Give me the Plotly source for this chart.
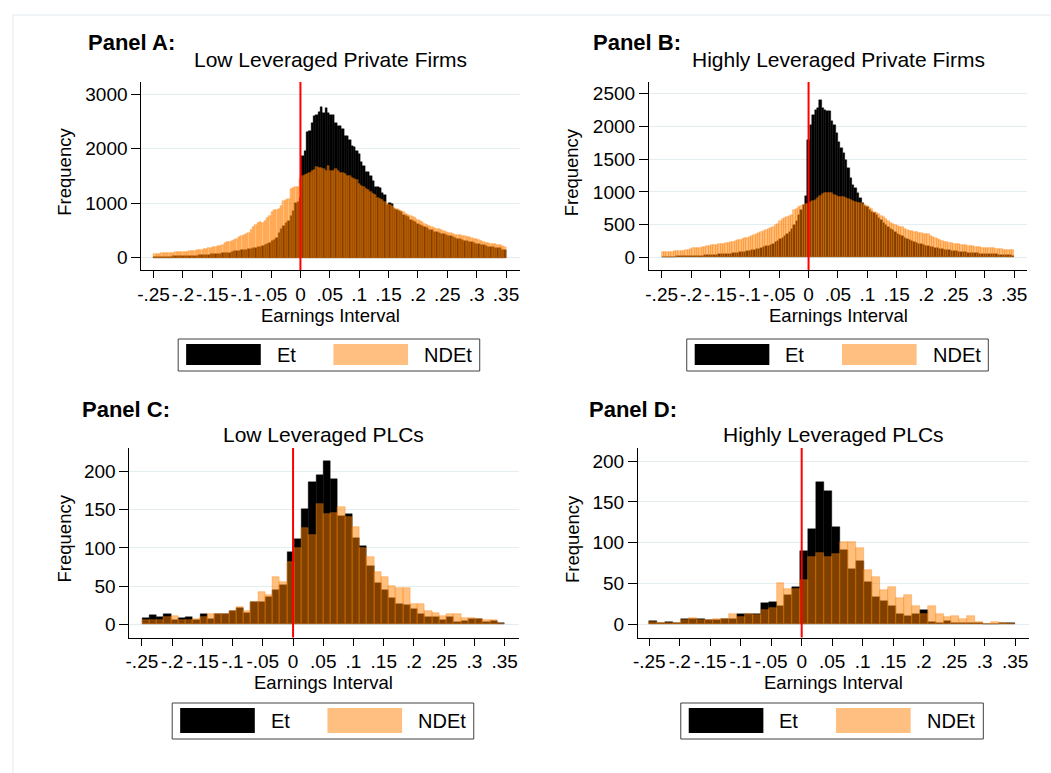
import plotly.graph_objects as go

W, H = 1051, 773
FONT = "Liberation Sans, Arial, Helvetica, sans-serif"

# ---------------- data (frequencies per earnings bin) ----------------
tick_vals = [-0.25, -0.2, -0.15, -0.1, -0.05, 0, 0.05, 0.1, 0.15, 0.2, 0.25, 0.3, 0.35]
tick_text = ["-.25", "-.2", "-.15", "-.1", "-.05", "0", ".05", ".1", ".15", ".2", ".25", ".3", ".35"]

# Panel A: Low leveraged private firms (150 bins of width .004 starting at -.25)
a_et = [12, 14, 15, 16, 18, 18, 20, 20, 22, 24,
        25, 27, 30, 31, 33, 35, 37, 38, 40, 42,
        44, 46, 50, 55, 60, 65, 68, 72, 75, 80,
        85, 90, 95, 105, 115, 120, 130, 138, 145, 150,
        155, 160, 170, 180, 190, 200, 215, 230, 250, 270,
        300, 330, 360, 450, 520, 580, 630, 680, 760, 850,
        1000, 1030, 1100, 1870, 1960, 2300, 2320, 2470, 2600, 2610,
        2670, 2770, 2660, 2740, 2650, 2620, 2620, 2480, 2420, 2420,
        2360, 2240, 2230, 2160, 2050, 2040, 1960, 1900, 1760, 1690,
        1580, 1580, 1490, 1400, 1290, 1290, 1280, 1180, 1150, 970,
        1000, 990, 900, 880, 850, 830, 780, 760, 740, 700,
        680, 650, 620, 600, 580, 560, 540, 510, 500, 480,
        470, 455, 440, 430, 410, 400, 390, 380, 365, 350,
        340, 325, 310, 300, 290, 280, 265, 255, 245, 235,
        225, 210, 205, 195, 190, 180, 175, 170, 150, 140]
a_ndet = [65, 70, 72, 78, 80, 84, 88, 92, 95, 98,
          100, 102, 104, 106, 110, 115, 120, 128, 135, 142,
          150, 158, 165, 172, 180, 188, 198, 210, 222, 240,
          262, 285, 290, 310, 330, 350, 372, 395, 420, 440,
          460, 500, 560, 600, 640, 650, 640, 680, 720, 760,
          845, 870, 880, 900, 950, 1040, 1060, 1080, 1260, 1275,
          1290, 1300, 1450, 1500, 1520, 1540, 1550, 1600, 1610, 1660,
          1650, 1640, 1630, 1600, 1690, 1600, 1590, 1620, 1600, 1560,
          1550, 1530, 1490, 1500, 1470, 1440, 1430, 1360, 1320, 1300,
          1260, 1240, 1200, 1170, 1150, 1100, 1080, 1060, 1020, 990,
          960, 940, 920, 900, 880, 860, 830, 800, 790, 760,
          740, 720, 700, 680, 650, 620, 600, 580, 560, 550,
          530, 520, 500, 490, 470, 460, 450, 440, 425, 418,
          410, 400, 392, 386, 378, 365, 350, 335, 320, 300,
          280, 270, 265, 258, 250, 245, 240, 232, 220, 205]

# Panel B: Highly leveraged private firms (150 bins of width .004)
b_et = [10, 10, 11, 11, 12, 12, 13, 13, 14, 15,
        16, 17, 18, 19, 20, 22, 24, 26, 28, 30,
        35, 38, 40, 42, 44, 46, 48, 50, 52, 55,
        60, 65, 70, 75, 80, 85, 92, 100, 108, 115,
        122, 130, 140, 155, 170, 180, 195, 210, 230, 250,
        280, 300, 320, 360, 390, 440, 500, 560, 640, 720,
        800, 930, 1800, 2025, 2180, 2255, 2280, 2410, 2280, 2255,
        2230, 2230, 2090, 2025, 1900, 1770, 1670, 1590, 1490, 1360,
        1210, 1110, 1060, 980, 900, 830, 790, 765, 730, 700,
        670, 640, 600, 570, 530, 500, 470, 440, 410, 390,
        360, 340, 320, 300, 285, 270, 255, 240, 225, 210,
        200, 190, 180, 170, 165, 160, 150, 140, 130, 122,
        115, 110, 105, 100, 95, 90, 88, 85, 80, 75,
        70, 68, 65, 62, 60, 58, 56, 54, 52, 50,
        48, 46, 44, 42, 40, 38, 36, 32, 28, 25]
b_ndet = [80, 82, 85, 86, 88, 90, 92, 95, 98, 100,
          105, 110, 120, 135, 140, 145, 150, 155, 165, 172,
          178, 185, 190, 195, 200, 205, 210, 215, 225, 235,
          240, 250, 260, 265, 275, 290, 300, 310, 325, 340,
          355, 370, 380, 395, 418, 430, 450, 470, 495, 510,
          560, 580, 600, 610, 625, 640, 720, 740, 770, 785,
          800, 815, 820, 850, 860, 870, 900, 930, 975, 985,
          990, 985, 980, 960, 930, 920, 920, 915, 900, 890,
          880, 860, 840, 830, 825, 815, 800, 780, 760, 735,
          700, 680, 660, 630, 610, 590, 560, 530, 510, 500,
          480, 470, 460, 440, 420, 405, 395, 390, 380, 370,
          365, 360, 355, 350, 330, 310, 290, 275, 260, 250,
          240, 230, 220, 215, 210, 205, 200, 195, 190, 185,
          180, 175, 170, 165, 160, 155, 150, 148, 145, 142,
          140, 135, 130, 125, 120, 118, 115, 112, 110, 110]

# Panel C: Low leveraged PLCs (50 bins of width .012)
c_et = [8, 12, 9, 13, 5, 8, 9, 6, 14, 7,
        13, 14, 17, 21, 15, 29, 29, 36, 45, 51,
        94, 112, 151, 186, 196, 214, 190, 142, 145, 113,
        103, 76, 54, 45, 34, 27, 25, 20, 13, 10,
        10, 6, 10, 3, 4, 7, 7, 3, 4, 2]
c_ndet = [6, 6, 6, 9, 11, 6, 6, 7, 9, 13,
          14, 14, 17, 22, 17, 29, 42, 39, 62, 56,
          81, 100, 126, 117, 158, 145, 146, 154, 141, 127,
          100, 88, 68, 62, 50, 48, 47, 26, 26, 17,
          15, 11, 14, 13, 8, 8, 7, 6, 6, 0]

# Panel D: Highly leveraged PLCs (46 bins spanning -.25 to .35)
d_et = [4, 2, 3, 2, 6, 6, 6, 5, 5, 6,
        7, 13, 13, 13, 26, 27, 22, 36, 46, 90,
        117, 174, 163, 119, 91, 68, 78, 52, 34, 29,
        23, 13, 10, 12, 17, 3, 2, 4, 1, 1,
        2, 1, 0, 0, 1, 1]
d_ndet = [3, 2, 2, 2, 5, 8, 5, 5, 7, 7,
          13, 9, 12, 11, 17, 20, 50, 43, 43, 54,
          83, 87, 82, 86, 101, 101, 93, 66, 58, 42,
          46, 32, 36, 22, 12, 22, 13, 9, 10, 7,
          10, 3, 0, 3, 2, 0]

panel_labels = ["Panel A:", "Panel B:", "Panel C:", "Panel D:"]
subtitles = ["Low Leveraged Private Firms", "Highly Leveraged Private Firms",
             "Low Leveraged PLCs", "Highly Leveraged PLCs"]
series_names = ["Et", "NDEt"]

# ---------------- layout geometry (pixels) ----------------
panels = [
    dict(et=a_et, ndet=a_ndet, start=-0.25, width=0.004,
         xdom=(137, 517), ydom=(82, 270), xr=(-0.2708, 0.373), yr=(-226, 3224),
         yt=[0, 1000, 2000, 3000], panel_x=81, panel_y=43, sub_y=59,
         ytitle_x=60, xtitle_y=315, leg=(174, 339, 477, 371)),
    dict(et=b_et, ndet=b_ndet, start=-0.25, width=0.004,
         xdom=(647, 1027), ydom=(82, 270), xr=(-0.2717, 0.372), yr=(-194, 2680),
         yt=[0, 500, 1000, 1500, 2000, 2500], panel_x=589, panel_y=43, sub_y=59,
         ytitle_x=570, xtitle_y=315, leg=(685, 339, 988, 371)),
    dict(et=c_et, ndet=c_ndet, start=-0.25, width=0.012,
         xdom=(125, 516), ydom=(448, 637.5), xr=(-0.2707, 0.373), yr=(-17.3, 230.8),
         yt=[0, 50, 100, 150, 200], panel_x=75, panel_y=410, sub_y=434,
         ytitle_x=60, xtitle_y=682, leg=(168, 703, 471, 739)),
    dict(et=d_et, ndet=d_ndet, start=-0.25, width=0.6 / 46,
         xdom=(636, 1029), ydom=(448, 637.5), xr=(-0.2685, 0.373), yr=(-16.2, 216),
         yt=[0, 50, 100, 150, 200], panel_x=585, panel_y=410, sub_y=434,
         ytitle_x=570, xtitle_y=682, leg=(679, 703, 983, 739)),
]

ORANGE = "rgba(255,128,0,0.5)"
ORANGE_EDGE = "rgba(255,128,0,0.6)"
GRID = "#e4edf0"
TICK_SIZE = 19
AXTITLE_SIZE = 18.5
SUB_SIZE = 21
PANEL_SIZE = 22
LEG_SIZE = 20


def px(x):
    return x / W


def py(y):
    return 1 - y / H


fig = go.Figure()
shapes = []
annotations = []
layout = {}

for k, p in enumerate(panels):
    n = k + 1
    xs = "x" if n == 1 else f"x{n}"
    ys = "y" if n == 1 else f"y{n}"
    xa = "xaxis" if n == 1 else f"xaxis{n}"
    ya = "yaxis" if n == 1 else f"yaxis{n}"
    centers = [p["start"] + p["width"] * (i + 0.5) for i in range(len(p["et"]))]

    fig.add_trace(go.Bar(x=centers, y=p["et"], width=p["width"], xaxis=xs, yaxis=ys,
                         name=series_names[0], showlegend=False,
                         marker=dict(color="black", line=dict(color="black", width=0.4))))
    fig.add_trace(go.Bar(x=centers, y=p["ndet"], width=p["width"], xaxis=xs, yaxis=ys,
                         name=series_names[1], showlegend=False,
                         marker=dict(color=ORANGE, line=dict(color=ORANGE_EDGE, width=0.6))))

    layout[xa] = dict(domain=[px(p["xdom"][0]), px(p["xdom"][1])], range=list(p["xr"]),
                      anchor=ys, tickmode="array", tickvals=tick_vals, ticktext=tick_text,
                      tickangle=0, ticks="outside", ticklen=7, tickcolor="black",
                      showline=True, linecolor="black", linewidth=1,
                      showgrid=False, zeroline=False,
                      tickfont=dict(family=FONT, size=TICK_SIZE, color="black"))
    layout[ya] = dict(domain=[py(p["ydom"][1]), py(p["ydom"][0])], range=list(p["yr"]),
                      anchor=xs, tickmode="array", tickvals=p["yt"],
                      ticks="outside", ticklen=9, tickcolor="black",
                      showline=True, linecolor="black", linewidth=1,
                      showgrid=True, gridcolor=GRID, gridwidth=1, zeroline=False,
                      tickfont=dict(family=FONT, size=TICK_SIZE, color="black"))

    # red reference line at zero
    shapes.append(dict(type="line", xref=xs, yref=f"{ys} domain", x0=0, x1=0, y0=0, y1=1,
                       line=dict(color="red", width=2)))

    # titles
    annotations.append(dict(text=f"<b>{panel_labels[k]}</b>", xref="paper", yref="paper",
                            x=px(p["panel_x"]), y=py(p["panel_y"]), xanchor="left", yanchor="middle",
                            showarrow=False, font=dict(family=FONT, size=PANEL_SIZE, color="black")))
    xc = (p["xdom"][0] + p["xdom"][1]) / 2
    annotations.append(dict(text=subtitles[k], xref="paper", yref="paper",
                            x=px(xc), y=py(p["sub_y"]), xanchor="center", yanchor="middle",
                            showarrow=False, font=dict(family=FONT, size=SUB_SIZE, color="black")))
    annotations.append(dict(text="Earnings Interval", xref="paper", yref="paper",
                            x=px(xc), y=py(p["xtitle_y"]), xanchor="center", yanchor="middle",
                            showarrow=False, font=dict(family=FONT, size=AXTITLE_SIZE, color="black")))
    yc = (p["ydom"][0] + p["ydom"][1]) / 2 - 4
    annotations.append(dict(text="Frequency", xref="paper", yref="paper", textangle=-90,
                            x=px(p["ytitle_x"]), y=py(yc), xanchor="center", yanchor="middle",
                            showarrow=False, font=dict(family=FONT, size=18.5, color="black")))

    # legend box
    l0, t0, r0, b0 = p["leg"]
    shapes.append(dict(type="rect", xref="paper", yref="paper",
                       x0=px(l0), x1=px(r0), y0=py(b0), y1=py(t0),
                       line=dict(color="#404040", width=1), fillcolor="white"))
    sw_t, sw_b = t0 + 5, b0 - 6
    shapes.append(dict(type="rect", xref="paper", yref="paper",
                       x0=px(l0 + 8), x1=px(l0 + 83), y0=py(sw_b), y1=py(sw_t),
                       line=dict(width=0), fillcolor="black"))
    shapes.append(dict(type="rect", xref="paper", yref="paper",
                       x0=px(l0 + 156), x1=px(l0 + 231), y0=py(sw_b), y1=py(sw_t),
                       line=dict(width=0), fillcolor="#ffbf80"))
    ym = (t0 + b0) / 2
    annotations.append(dict(text=series_names[0], xref="paper", yref="paper",
                            x=px(l0 + 97), y=py(ym), xanchor="left", yanchor="middle",
                            showarrow=False, font=dict(family=FONT, size=LEG_SIZE, color="black")))
    annotations.append(dict(text=series_names[1], xref="paper", yref="paper",
                            x=px(l0 + 245), y=py(ym), xanchor="left", yanchor="middle",
                            showarrow=False, font=dict(family=FONT, size=LEG_SIZE, color="black")))

# faint outer frame of the graph region
shapes.insert(0, dict(type="rect", xref="paper", yref="paper", x0=px(8), x1=px(1070),
                      y0=py(800), y1=py(15), line=dict(color="#e2eaee", width=1), layer="below"))

fig.update_layout(width=W, height=H, margin=dict(l=0, r=0, t=0, b=0),
                  paper_bgcolor="white", plot_bgcolor="white",
                  barmode="overlay", bargap=0, showlegend=False,
                  font=dict(family=FONT, color="black"),
                  shapes=shapes, annotations=annotations, **layout)

fig.write_html("out.html")
